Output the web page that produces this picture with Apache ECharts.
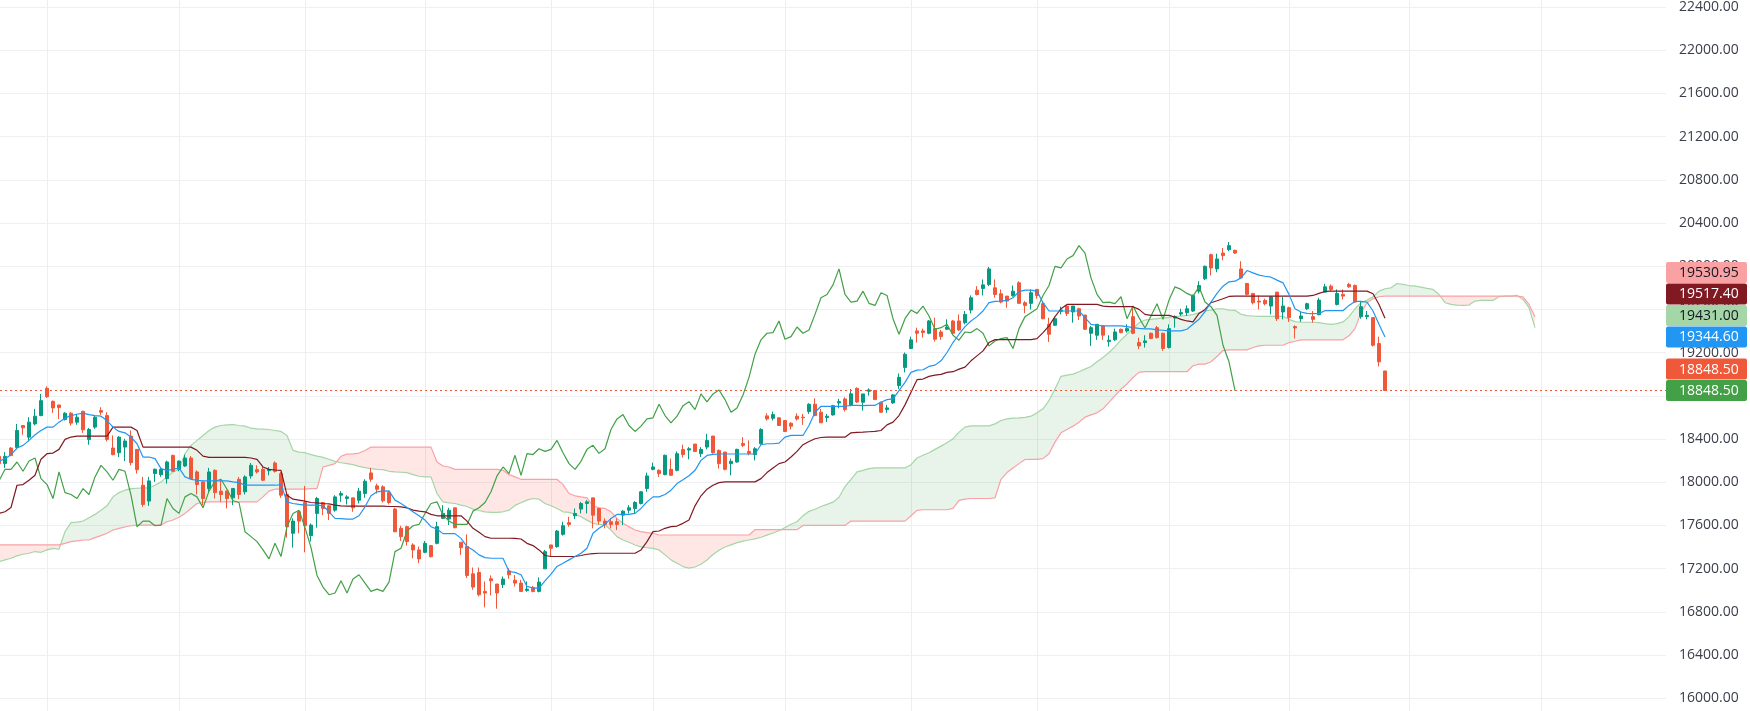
<!DOCTYPE html>
<html><head><meta charset="utf-8">
<script src="https://cdn.jsdelivr.net/npm/echarts@6/dist/echarts.min.js"></script>
<style>html,body{margin:0;padding:0;background:#fff;overflow:hidden}#c{width:1750px;height:711px}</style>
</head><body><div id="c"></div>
<script>
// ---- candle data (index = bar number) ----
const open = [18239,18172,18316,18322,18525,18417,18540,18617,18869,18749,
18715,18580,18639,18556,18657,18396,18510,18663,18617,18316,
18273,18325,18427,18304,17972,17825,18080,18070,18033,18248,
18119,18150,18224,18095,18003,17941,18110,17917,17917,17855,
18027,17911,18058,18116,18119,18107,18178,18079,17886,17527,
17726,17812,17505,17711,17812,17781,17741,17880,17849,17855,
17833,17895,18086,17966,17957,17904,17751,17573,17588,17419,
17373,17351,17413,17434,17665,17659,17763,17444,17404,17152,
17164,16989,17106,17057,17051,17179,17092,17066,16998,17026,
16989,17198,17419,17403,17517,17625,17689,17751,17803,17855,
17757,17640,17634,17634,17695,17741,17757,17803,17941,18119,
18110,18070,18119,18110,18302,18298,18353,18264,18325,18427,
18294,18279,18172,18187,18359,18285,18255,18356,18614,18592,
18596,18571,18546,18611,18602,18654,18722,18648,18599,18623,
18734,18771,18712,18869,18740,18842,18848,18740,18672,18734,
18894,19063,19238,19401,19401,19379,19422,19391,19416,19493,
19493,19477,19594,19778,19794,19831,19800,19745,19723,19729,
19846,19662,19656,19785,19653,19462,19453,19582,19631,19576,
19606,19548,19379,19361,19447,19302,19318,19416,19400,19533,
19293,19293,19379,19431,19379,19247,19520,19557,19570,19585,
19769,19883,20107,19975,20122,20153,20147,19975,19840,19748,
19677,19683,19631,19760,19576,19616,19441,19514,19606,19533,
19551,19760,19815,19646,19739,19831,19821,19533,19533,19524,
19284,19030];
const close = [18172,18239,18248,18479,18504,18556,18611,18755,18792,18688,
18691,18639,18547,18602,18485,18488,18602,18648,18396,18255,
18417,18381,18181,18116,17794,18012,18120,18119,18187,18101,
18196,18224,18033,17978,17849,18095,17904,17886,17849,17941,
17886,18049,18156,18095,18018,18119,18101,17880,17588,17640,
17640,17597,17603,17849,17757,17711,17864,17895,17864,17763,
17917,18009,18027,17935,17828,17812,17542,17496,17450,17373,
17290,17434,17311,17588,17711,17741,17579,17394,17137,17029,
16958,16974,17087,16974,17103,17143,17066,16989,17010,16989,
17075,17357,17388,17548,17597,17609,17711,17803,17818,17695,
17640,17609,17609,17609,17732,17763,17812,17911,18058,18141,
18079,18249,18064,18264,18256,18310,18285,18304,18387,18273,
18172,18119,18193,18304,18341,18267,18310,18488,18586,18626,
18525,18470,18519,18586,18596,18722,18617,18550,18611,18709,
18746,18672,18818,18743,18817,18854,18765,18648,18688,18808,
18971,19185,19318,19379,19385,19493,19324,19348,19437,19379,
19410,19554,19708,19738,19827,19975,19738,19668,19677,19769,
19656,19637,19754,19729,19514,19370,19514,19594,19563,19631,
19539,19416,19431,19462,19361,19315,19391,19385,19422,19379,
19262,19308,19330,19339,19238,19422,19533,19570,19606,19729,
19821,19999,19984,20067,20098,20190,20122,19892,19739,19662,
19668,19653,19717,19514,19631,19524,19428,19539,19653,19508,
19686,19809,19785,19748,19723,19809,19668,19625,19545,19268,
19115,18848.5];
const high = [18250,18279,18325,18540,18527,18602,18679,18817,18887,18755,
18715,18648,18648,18633,18660,18503,18617,18694,18648,18433,
18427,18402,18479,18304,18049,18049,18126,18135,18200,18255,
18200,18255,18242,18110,18009,18132,18119,18018,17926,17947,
18049,18064,18178,18156,18141,18141,18193,18095,17895,17665,
17741,17966,17618,17864,17818,17788,17880,17917,17880,17855,
17947,18027,18132,17987,17972,17917,17763,17597,17597,17434,
17404,17456,17419,17634,17787,17763,17763,17444,17517,17210,
17210,17081,17137,17057,17127,17204,17140,17096,17081,17040,
17118,17373,17419,17557,17634,17680,17757,17818,17834,17855,
17763,17665,17665,17665,17741,17787,17824,17917,18089,18181,
18119,18255,18218,18285,18347,18325,18353,18325,18448,18427,
18304,18279,18218,18310,18417,18387,18325,18500,18638,18654,
18602,18571,18556,18638,18632,18731,18777,18679,18632,18716,
18771,18786,18863,18878,18817,18869,18854,18746,18716,18817,
19007,19201,19348,19431,19422,19502,19523,19410,19508,19502,
19554,19585,19729,19815,19877,19993,19877,19785,19723,19821,
19861,19677,19785,19785,19668,19523,19532,19625,19637,19631,
19616,19548,19447,19462,19453,19361,19422,19422,19462,19616,
19339,19361,19385,19447,19385,19462,19545,19606,19637,19738,
19861,20006,20116,20116,20169,20224,20153,20046,19846,19748,
19729,19699,19723,19760,19717,19625,19453,19576,19662,19585,
19708,19837,19831,19785,19785,19846,19831,19677,19585,19524,
19348,19030];
const low = [18160,18132,18240,18304,18439,18378,18525,18611,18780,18642,
18586,18571,18525,18531,18457,18347,18494,18623,18378,18249,
18233,18196,18156,18080,17772,17781,18003,18050,17987,18095,
18101,18141,18027,17886,17788,17911,17849,17818,17757,17788,
17843,17886,18033,18080,18009,18064,18089,17855,17487,17394,
17527,17351,17450,17579,17695,17649,17726,17818,17794,17726,
17803,17855,18003,17895,17812,17794,17536,17456,17413,17296,
17250,17342,17302,17425,17659,17603,17573,17327,17112,17004,
16943,16841,16952,16829,17020,17106,17035,16985,16985,16980,
16980,17198,17312,17394,17505,17588,17658,17711,17711,17573,
17609,17573,17573,17557,17603,17711,17711,17794,17911,18110,
18049,18064,18058,18101,18228,18212,18279,18233,18304,18264,
18126,18110,18064,18181,18325,18249,18202,18347,18571,18571,
18525,18464,18488,18571,18531,18632,18611,18550,18556,18617,
18685,18654,18703,18734,18663,18801,18765,18642,18642,18725,
18863,19017,19232,19293,19339,19370,19302,19318,19410,19370,
19401,19462,19563,19729,19729,19815,19708,19656,19616,19717,
19656,19565,19600,19699,19508,19299,19447,19554,19539,19477,
19502,19410,19262,19318,19318,19256,19308,19379,19385,19370,
19232,19247,19324,19330,19216,19238,19431,19539,19539,19576,
19748,19871,19914,19944,20055,20138,20113,19883,19729,19646,
19600,19637,19554,19493,19508,19484,19330,19484,19594,19477,
19545,19754,19769,19637,19692,19800,19662,19514,19508,19256,
19072,18848.5];

// ---- Ichimoku lines (index = bar position) ----
const tenkan = [18193,18218,18255,18316,18341,18387,18439,18479,18510,18510,
18556,18593,18617,18629,18639,18626,18617,18611,18571,18510,
18470,18457,18418,18356,18233,18233,18218,18126,18110,18119,
18132,18049,18027,18018,18012,18012,18012,18012,18012,18003,
17996,17972,17972,17972,17972,17972,17972,17978,17818,17803,
17794,17788,17788,17788,17782,17726,17665,17662,17659,17659,
17689,17772,17874,17911,17917,17920,17834,17803,17766,17726,
17689,17649,17588,17566,17524,17524,17524,17480,17404,17373,
17327,17302,17296,17296,17296,17173,17165,17143,17035,17020,
17020,17087,17149,17220,17250,17281,17312,17342,17388,17527,
17573,17609,17665,17702,17702,17702,17711,17757,17818,17864,
17864,17886,17926,17987,18022,18060,18110,18202,18248,18258,
18261,18261,18261,18261,18261,18261,18261,18347,18356,18356,
18362,18417,18433,18433,18433,18525,18648,18703,18703,18703,
18703,18703,18712,18712,18709,18712,18712,18740,18765,18771,
18848,18924,19017,19038,19041,19072,19084,19124,19201,19293,
19370,19441,19493,19533,19585,19662,19674,19677,19683,19708,
19765,19778,19778,19769,19662,19585,19585,19585,19585,19585,
19585,19524,19462,19453,19447,19447,19447,19447,19441,19431,
19425,19420,19420,19410,19407,19401,19401,19401,19416,19462,
19508,19580,19668,19748,19815,19855,19861,19892,19960,19938,
19917,19907,19898,19871,19846,19739,19606,19576,19563,19560,
19563,19588,19588,19588,19588,19637,19674,19674,19668,19585,
19462,19344.6];
const kijun = [17711,17726,17766,17972,17978,18018,18064,18212,18264,18270,
18304,18396,18418,18427,18427,18427,18427,18427,18427,18510,
18510,18510,18510,18479,18325,18325,18325,18325,18325,18325,
18325,18325,18325,18295,18242,18230,18230,18230,18230,18230,
18230,18230,18224,18212,18141,18119,18113,18110,17880,17843,
17834,17825,17812,17809,17803,17800,17788,17780,17778,17778,
17778,17778,17778,17778,17778,17775,17775,17772,17763,17741,
17732,17726,17702,17689,17689,17689,17689,17689,17640,17573,
17536,17496,17481,17481,17481,17481,17480,17474,17434,17413,
17373,17321,17312,17312,17312,17312,17312,17321,17333,17339,
17342,17342,17342,17342,17342,17342,17342,17373,17450,17542,
17548,17573,17588,17594,17619,17650,17781,17874,17935,17972,
17996,18003,18003,18003,18003,18003,18003,18033,18089,18132,
18172,18187,18233,18285,18347,18377,18402,18414,18417,18417,
18417,18417,18457,18462,18464,18467,18470,18479,18531,18556,
18617,18716,18832,18949,18955,18980,18992,18998,19017,19023,
19047,19066,19124,19170,19216,19293,19320,19320,19320,19320,
19320,19320,19320,19330,19385,19447,19533,19606,19646,19646,
19646,19646,19646,19646,19631,19625,19625,19625,19625,19625,
19600,19554,19545,19545,19545,19545,19530,19508,19493,19484,
19563,19600,19662,19680,19699,19720,19723,19723,19723,19723,
19723,19723,19723,19723,19723,19723,19723,19723,19723,19729,
19748,19766,19769,19769,19769,19769,19769,19769,19769,19745,
19646,19517.4];
const spanA = [17265,17281,17296,17318,17333,17342,17358,17351,17373,17388,
17379,17542,17625,17631,17640,17671,17702,17741,17781,17864,
17904,17926,17941,17944,17947,17947,17972,18003,18049,18095,
18119,18264,18341,18387,18433,18479,18510,18525,18531,18534,
18525,18519,18500,18494,18491,18488,18479,18470,18433,18295,
18279,18273,18255,18242,18230,18212,18193,18180,18172,18162,
18147,18135,18126,18119,18116,18101,18095,18092,18089,18070,
18055,18049,18049,17895,17818,17809,17803,17788,17775,17751,
17738,17726,17720,17720,17726,17741,17785,17810,17834,17849,
17843,17803,17782,17757,17726,17720,17702,17680,17649,17619,
17609,17603,17557,17496,17465,17444,17419,17401,17394,17388,
17373,17327,17281,17250,17219,17204,17215,17240,17280,17330,
17370,17400,17420,17440,17455,17465,17475,17490,17510,17530,
17550,17580,17610,17634,17690,17730,17750,17775,17795,17815,
17860,17960,18027,18095,18110,18126,18132,18132,18132,18132,
18132,18132,18162,18224,18249,18273,18304,18334,18365,18402,
18464,18510,18522,18522,18522,18522,18540,18571,18586,18593,
18595,18600,18611,18642,18679,18756,18863,18980,18992,19001,
19023,19047,19072,19115,19155,19201,19256,19318,19370,19422,
19477,19502,19508,19514,19520,19527,19533,19539,19545,19551,
19570,19585,19594,19606,19606,19594,19591,19554,19542,19539,
19536,19536,19536,19536,19536,19508,19487,19481,19481,19481,
19477,19468,19462,19468,19484,19533,19606,19662,19686,19717,
19769,19791,19800,19840,19831,19821,19815,19806,19794,19785,
19738,19662,19646,19640,19637,19640,19677,19683,19683,19683,
19717,19723,19723,19729,19692,19616,19431];
const spanB = [17419,17419,17419,17419,17419,17419,17419,17419,17419,17419,
17419,17434,17450,17456,17465,17465,17487,17505,17527,17557,
17573,17585,17597,17603,17603,17603,17603,17603,17634,17650,
17675,17711,17757,17803,17812,17818,17818,17818,17818,17818,
17818,17818,17818,17818,17864,17917,17935,17935,17935,17935,
17935,17935,17941,17941,18141,18156,18172,18240,18260,18262,
18270,18294,18325,18325,18325,18325,18325,18325,18325,18325,
18325,18325,18325,18187,18150,18141,18119,18119,18119,18119,
18119,18119,18119,18119,18110,18070,18049,18027,18027,18027,
18027,18027,18027,18027,17978,17895,17874,17864,17855,17782,
17763,17757,17726,17665,17619,17588,17557,17542,17533,17527,
17511,17511,17511,17511,17511,17511,17511,17511,17511,17511,
17511,17511,17511,17511,17511,17511,17560,17560,17560,17560,
17560,17560,17560,17560,17600,17600,17600,17600,17600,17600,
17600,17600,17640,17640,17640,17640,17640,17640,17640,17640,
17640,17640,17689,17739,17745,17745,17745,17745,17745,17757,
17831,17843,17849,17849,17849,17849,17855,18027,18089,18132,
18172,18210,18212,18212,18218,18264,18371,18457,18488,18519,
18556,18602,18623,18642,18679,18740,18802,18863,18909,18970,
19017,19023,19023,19023,19023,19023,19023,19023,19023,19078,
19093,19093,19115,19164,19219,19225,19225,19225,19225,19247,
19262,19268,19268,19268,19268,19293,19305,19318,19318,19318,
19318,19318,19318,19318,19318,19355,19422,19570,19662,19699,
19717,19723,19723,19723,19723,19723,19723,19723,19723,19723,
19723,19723,19723,19723,19723,19723,19723,19723,19723,19723,
19723,19723,19723,19723,19717,19646,19530.95];
const chikouShift = 25;          // lagging span = close drawn 25 bars back
const monthStarts = [8,30,51,71,92,109,131,152,173,195,215,235,257];
const yTicks = {min:16000, max:22400, step:400};

const UP='#089981', DOWN='#f0583a';
const candleData = open.map((o,i)=>[i,o,close[i],low[i],high[i]]);
const toXY = arr => arr.map((v,i)=>[i,v]);
const chikouData = close.slice(chikouShift).map((v,j)=>[j,v]);

const chart = echarts.init(document.getElementById('c'), null, {renderer:'canvas'});
const G_FILL='rgba(67,160,71,0.12)', R_FILL='rgba(244,67,54,0.13)';

function renderCloud(params, api){
  const children=[]; let aPts=[], bPts=[], sign=0;
  const flush=()=>{ if(aPts.length>1) children.push({type:'polygon',shape:{points:aPts.concat(bPts.slice().reverse())},style:{fill:sign>0?G_FILL:R_FILL}}); };
  for(let k=0;k<spanA.length;k++){
    const a=spanA[k], b=spanB[k], s=a>=b?1:-1;
    const pa=api.coord([k,a]), pb=api.coord([k,b]);
    if(k===0){sign=s;aPts=[pa];bPts=[pb];continue;}
    if(s!==sign){
      const a0=spanA[k-1], b0=spanB[k-1], d0=a0-b0, d1=a-b, t=d0/(d0-d1);
      const pc=api.coord([k-1+t, a0+(a-a0)*t]);
      aPts.push(pc); bPts.push(pc); flush();
      sign=s; aPts=[pc,pa]; bPts=[pc,pb];
    } else { aPts.push(pa); bPts.push(pb); }
  }
  flush();
  return {type:'group',children};
}

const lineS=(name,data,color,z)=>({type:'line',name,data,symbol:'none',smooth:false,z,
  lineStyle:{color,width:1.2},itemStyle:{color},silent:true,animation:false});

chart.setOption({
  animation:false,
  backgroundColor:'#ffffff',
  grid:{left:0,right:84,top:2.84,bottom:12.8,containLabel:false},
  xAxis:{type:'value',min:1/6,max:1/6+1666/6,show:false,splitLine:{show:false}},
  yAxis:{type:'value',position:'right',min:yTicks.min,max:yTicks.max,interval:yTicks.step,scale:true,
    axisLine:{show:false},axisTick:{show:false},
    axisLabel:{formatter:v=>v.toFixed(2),color:'#3a3e4a',fontSize:14,fontFamily:'"Open Sans", Roboto, sans-serif',margin:13},
    splitLine:{lineStyle:{color:'#eef0f4',width:1}}},
  series:[
    {type:'custom',name:'months',data:monthStarts.map(k=>[k,yTicks.min]),z:0,silent:true,clip:false,
      renderItem:(p,api)=>{const x=Math.round(api.coord([api.value(0),api.value(1)])[0])+0.5;
        return {type:'line',shape:{x1:x,y1:0,x2:x,y2:api.getHeight()},style:{stroke:'#eceef2',lineWidth:1}};}},
    {type:'custom',name:'cloud',data:[[0,spanA[0]]],z:1,silent:true,clip:true,renderItem:renderCloud},
    lineS('Lead 1',toXY(spanA),'#a5d6a7',2),
    lineS('Lead 2',toXY(spanB),'#faa1a4',2),
    {type:'candlestick',name:'price',data:candleData,barWidth:4,z:3,silent:true,
      itemStyle:{color:UP,color0:DOWN,borderColor:UP,borderColor0:DOWN,borderWidth:1},
      markLine:{silent:true,symbol:['none','none'],label:{show:false},
        lineStyle:{color:DOWN,type:[2,3],width:1},data:[{yAxis:close[close.length-1]}]}},
    lineS('Lagging Span',chikouData,'#43a047',4),
    lineS('Base Line',toXY(kijun),'#801922',4),
    lineS('Conversion Line',toXY(tenkan),'#2196f3',4)
  ]
});

// price-scale labels (stacked like the reference)
const last = a=>a[a.length-1];
const tags = [
  {v:last(spanB),bg:'#faa1a4',fg:'#131722'},
  {v:last(kijun),bg:'#801922',fg:'#ffffff'},
  {v:last(spanA),bg:'#a5d6a7',fg:'#131722'},
  {v:last(tenkan),bg:'#2196f3',fg:'#ffffff'},
  {v:last(close),bg:DOWN,fg:'#ffffff'},
  {v:last(close),bg:'#43a047',fg:'#ffffff'}
];
const H=21.5; let prev=Infinity; const ys=[];
for(let i=tags.length-1;i>=0;i--){
  const py=chart.convertToPixel({yAxisIndex:0},tags[i].v);
  const cy=Math.min(py,prev-H); ys[i]=cy; prev=cy;
}
const gfx=[];
tags.forEach((t,i)=>{
  gfx.push({type:'rect',z:100,shape:{x:1666,y:ys[i]-10.5,width:81,height:21,r:2},style:{fill:t.bg}});
  gfx.push({type:'text',z:101,x:1679,y:ys[i]+0.5,style:{text:t.v.toFixed(2),fill:t.fg,font:'14px "Open Sans", Roboto, sans-serif',textAlign:'left',textVerticalAlign:'middle',align:'left',verticalAlign:'middle'}});
});
chart.setOption({graphic:gfx});
</script>
</body></html>
